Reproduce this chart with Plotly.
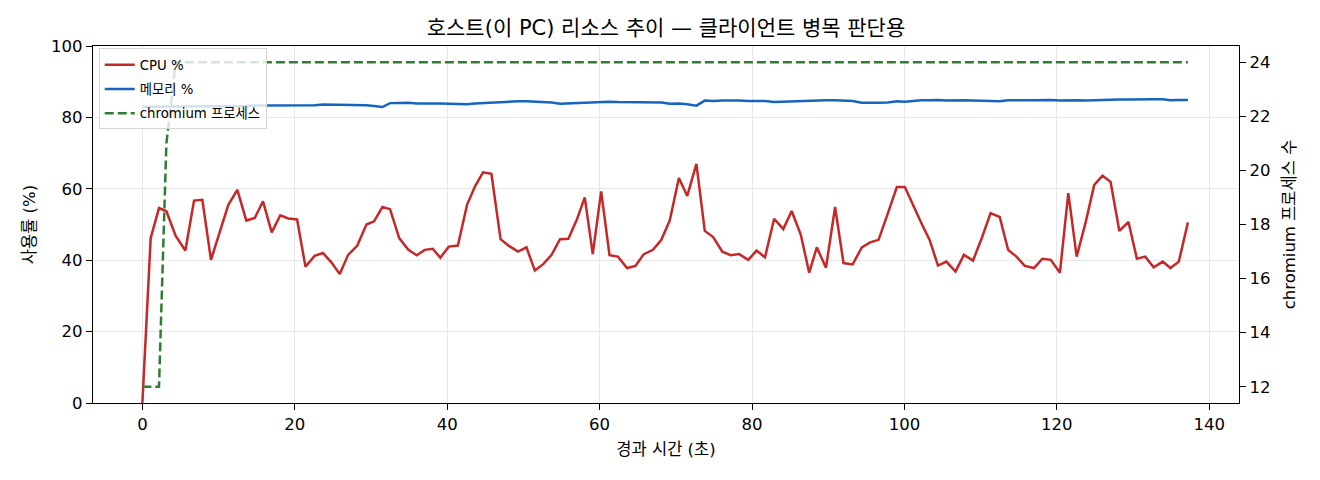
import plotly.graph_objects as go

# elapsed time (s)
elapsed = [0.0, 1.09, 2.18, 3.15, 4.37, 5.64, 6.78, 7.87, 9.0, 10.15, 11.28, 12.46, 13.64, 14.74, 15.83, 16.97,
           18.1, 19.15, 20.3, 21.4, 22.6, 23.7, 24.8, 25.9, 27.0, 28.2, 29.4, 30.4, 31.5, 32.5, 33.7,
           34.9, 36.0, 37.05, 38.1, 39.1, 40.2, 41.4, 42.6, 43.65, 44.7, 45.8, 47.0, 48.1, 49.3, 50.4, 51.5,
           52.6, 53.7, 54.8, 55.9, 57.0, 58.05, 59.1, 60.2, 61.3, 62.4, 63.6, 64.7, 65.8, 67.0, 68.1,
           69.2, 70.4, 71.5, 72.7, 73.8, 74.9, 76.1, 77.2, 78.3, 79.5, 80.6, 81.7, 82.9, 84.1, 85.2, 86.4,
           87.5, 88.5, 89.7, 90.9, 92.0, 93.2, 94.4, 95.5, 96.6, 97.8, 99.0, 100.05, 101.1, 102.2,
           103.3, 104.4, 105.5, 106.7, 107.8, 109.0, 110.2, 111.3, 112.5, 113.6, 114.7, 115.8, 117.0, 118.1,
           119.2, 120.4, 121.5, 122.6, 123.8, 124.9, 126.0, 127.05, 128.2, 129.4, 130.5, 131.6, 132.7,
           133.9, 134.9, 136.0, 137.2]

cpu = [0.0, 46.2, 54.6, 53.7, 46.8, 42.7, 56.7, 56.9, 40.1, 47.6, 55.5, 59.7, 51.1, 51.8, 56.5, 47.8,
       52.6, 51.7, 51.4, 38.2, 41.2, 42.0, 39.4, 36.1, 41.5, 44.1, 50.0, 50.9, 54.9, 54.3, 46.2,
       42.9, 41.4, 42.9, 43.2, 40.7, 43.8, 44.1, 55.5, 60.7, 64.6, 64.2, 45.9, 44.0, 42.4, 43.6, 37.1,
       38.9, 41.5, 45.9, 46.0, 51.3, 57.6, 41.7, 59.3, 41.4, 41.0, 37.8, 38.4, 41.7, 42.9, 45.7,
       51.1, 63.0, 58.0, 67.0, 48.2, 46.5, 42.4, 41.4, 41.7, 40.1, 42.7, 40.8, 51.6, 48.7, 53.8, 47.1,
       36.5, 43.6, 37.9, 54.9, 39.2, 38.8, 43.6, 45.0, 45.7, 53.0, 60.5, 60.5, 55.5, 50.5,
       45.7, 38.5, 39.6, 36.8, 41.5, 39.9, 46.5, 53.2, 52.1, 42.9, 41.0, 38.4, 37.8, 40.4,
       40.1, 36.5, 58.8, 41.0, 50.8, 61.1, 63.7, 61.9, 48.2, 50.7, 40.4, 41.0, 38.0,
       39.6, 37.8, 39.6, 50.6]

memory = [83.0, 83.0, 83.1, 83.1, 83.2, 83.2, 83.2, 83.2, 83.2, 83.2, 83.2, 83.2, 83.2, 83.3, 83.3, 83.3,
          83.3, 83.3, 83.3, 83.4, 83.4, 83.6, 83.6, 83.5, 83.5, 83.5, 83.4, 83.2, 82.9, 84.0, 84.1,
          84.1, 83.9, 83.8, 83.9, 83.9, 83.8, 83.9, 83.7, 83.9, 84.0, 84.1, 84.4, 84.5, 84.5, 84.5, 84.4,
          84.5, 84.2, 83.8, 83.9, 84.1, 84.2, 84.3, 84.4, 84.4, 84.3, 84.3, 84.4, 84.4, 84.3, 84.2,
          83.8, 83.9, 83.7, 83.3, 84.7, 84.6, 84.7, 84.8, 84.7, 84.6, 84.6, 84.6, 84.3, 84.4, 84.4, 84.7,
          84.7, 84.7, 84.8, 84.8, 84.7, 84.6, 84.1, 84.0, 84.1, 84.2, 84.5, 84.4, 84.6, 84.8,
          84.8, 84.9, 84.7, 84.8, 84.8, 84.7, 84.6, 84.4, 84.5, 84.8, 84.9, 84.8, 84.8, 84.9,
          84.9, 84.7, 84.8, 84.8, 84.7, 84.8, 85.0, 85.0, 85.0, 85.0, 85.1, 85.0, 85.1,
          85.1, 84.8, 84.9, 84.9]

procs = [12, 12, 12, 21, 24, 24, 24, 24, 24, 24, 24, 24, 24, 24, 24, 24,
         24, 24, 24, 24, 24, 24, 24, 24, 24, 24, 24, 24, 24, 24, 24,
         24, 24, 24, 24, 24, 24, 24, 24, 24, 24, 24, 24, 24, 24, 24, 24,
         24, 24, 24, 24, 24, 24, 24, 24, 24, 24, 24, 24, 24, 24, 24,
         24, 24, 24, 24, 24, 24, 24, 24, 24, 24, 24, 24, 24, 24, 24, 24,
         24, 24, 24, 24, 24, 24, 24, 24, 24, 24, 24, 24, 24, 24,
         24, 24, 24, 24, 24, 24, 24, 24, 24, 24, 24, 24, 24, 24,
         24, 24, 24, 24, 24, 24, 24, 24, 24, 24, 24, 24, 24,
         24, 24, 24, 24]

x_ticks = [0, 20, 40, 60, 80, 100, 120, 140]
left_ticks = [0, 20, 40, 60, 80, 100]
right_ticks = [12, 14, 16, 18, 20, 22, 24]

FONT = "DejaVu Sans, Noto Sans CJK KR"

fig = go.Figure()

fig.add_trace(go.Scatter(x=elapsed, y=cpu, name="CPU %", mode="lines", legendgroup="a",
                         line=dict(color="#c62828", width=2.5)))
fig.add_trace(go.Scatter(x=elapsed, y=memory, name="메모리 %", mode="lines", legendgroup="b",
                         line=dict(color="#1565c0", width=2.5)))
fig.add_trace(go.Scatter(x=elapsed, y=procs, name="chromium 프로세스", mode="lines", yaxis="y2",
                         legendgroup="c", line=dict(color="#2e7d32", width=2.5, dash="9px,4px")))

axis_common = dict(showline=True, linecolor="black", linewidth=1.3, ticks="outside", ticklen=6,
                   tickwidth=1.3, tickcolor="black", tickfont=dict(size=16.5, color="black"),
                   zeroline=False, automargin=False)

# page body adds 8px offset, so the figure is 8px smaller than the window
fig.update_layout(
    width=1312, height=472,
    margin=dict(l=85, r=81, t=38, b=77),
    paper_bgcolor="white", plot_bgcolor="white",
    font=dict(family=FONT, color="black"),
    title=dict(text="호스트(이 PC) 리소스 추이 — 클라이언트 병목 판단용", x=0.5, xref="paper",
               y=0.958, yref="container", yanchor="middle", font=dict(size=21, color="black")),
    xaxis=dict(range=[-6.48, 143.9], tickvals=x_ticks, mirror=True, showgrid=True,
               gridcolor="#e7e7e7", gridwidth=1.3,
               title=dict(text="경과 시간 (초)", font=dict(size=16.5), standoff=10),
               **axis_common),
    yaxis=dict(range=[0, 100], tickvals=left_ticks, showgrid=True, gridcolor="#e7e7e7", gridwidth=1.3,
               title=dict(text="사용률 (%)", font=dict(size=16.5), standoff=11), **axis_common),
    yaxis2=dict(range=[11.4, 24.6], tickvals=right_ticks, overlaying="y", side="right", showgrid=False,
                title=dict(text="chromium 프로세스 수", font=dict(size=16.5), standoff=13), **axis_common),
    legend=dict(x=0.005, y=0.993, xanchor="left", yanchor="top", bgcolor="rgba(255,255,255,0.8)",
                bordercolor="#d5d5d5", borderwidth=1, tracegroupgap=4,
                font=dict(size=13.3, color="black")),
    showlegend=True,
)

fig.write_html("out.html")
